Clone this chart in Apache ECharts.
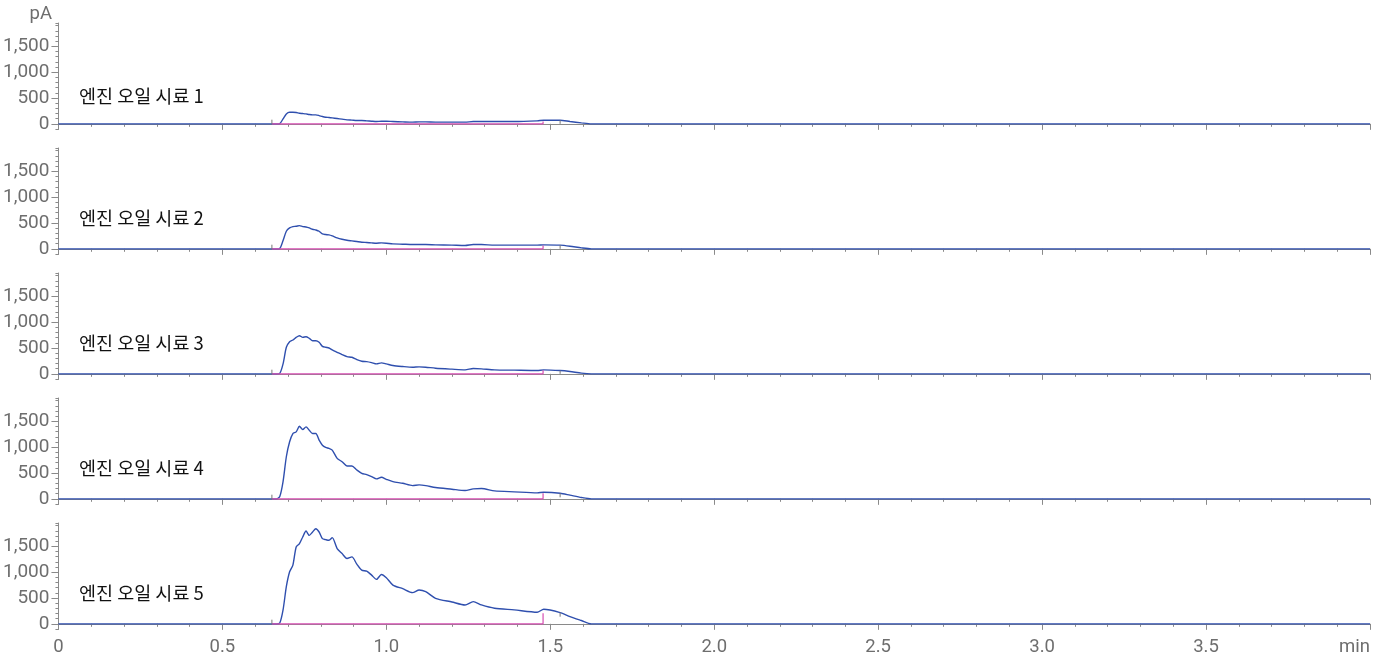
<!DOCTYPE html>
<html>
<head>
<meta charset="utf-8">
<script src="https://cdn.jsdelivr.net/npm/echarts@6/dist/echarts.min.js"></script>
<style>
  html, body { margin: 0; padding: 0; background: #fff; }
  #chart { width: 1386px; height: 662px; }
</style>
</head>
<body>
<div id="chart"></div>
<script>
// retention time (min), shared by all five traces
const times = [0, 0.65, 0.665, 0.675, 0.685, 0.695, 0.705, 0.715, 0.725, 0.735, 0.745, 0.755, 0.765, 0.775, 0.785, 0.795, 0.805, 0.815, 0.825, 0.835,
  0.85, 0.865, 0.88, 0.895, 0.91, 0.925, 0.94, 0.955, 0.97, 0.985, 1.0,
  1.02, 1.05, 1.08, 1.1, 1.12, 1.15, 1.2, 1.24, 1.265, 1.29, 1.33, 1.39, 1.46, 1.48, 1.53, 1.56, 1.595, 1.625, 4.0]

// detector signal (pA)
const sample1 = [0, 0, 0, 5, 96, 192, 224, 224, 218, 205, 199, 192, 180, 173, 173, 160, 141, 128, 122, 115,
  103, 90, 77, 71, 64, 64, 58, 51, 45, 51, 51,
  45, 38, 32, 38, 38, 32, 32, 32, 45, 45, 45, 45, 58, 70, 70, 45, 19, 0, 0]
const sample2 = [0, 0, 0, 8, 160, 340, 404, 430, 436, 449, 430, 423, 404, 378, 365, 340, 288, 276, 269, 250,
  212, 186, 167, 154, 141, 128, 122, 115, 109, 115, 109,
  96, 90, 83, 83, 83, 77, 71, 64, 83, 83, 71, 71, 71, 77, 71, 51, 19, 0, 0]
const sample3 = [0, 0, 0, 10, 192, 513, 622, 654, 705, 737, 705, 718, 686, 641, 641, 609, 532, 513, 500, 462,
  417, 372, 333, 320, 276, 244, 237, 218, 192, 212, 192,
  160, 141, 128, 135, 128, 109, 90, 77, 103, 96, 77, 71, 64, 77, 64, 45, 13, 0, 0]
const sample4 = [0, 0, 0, 45, 333, 814, 1103, 1263, 1295, 1404, 1340, 1391, 1327, 1263, 1263, 1135, 1038, 994, 974, 942,
  782, 718, 635, 635, 558, 494, 468, 429, 385, 417, 378,
  333, 301, 256, 269, 256, 218, 186, 160, 192, 199, 154, 135, 115, 128, 109, 71, 26, 0, 0]
const sample5 = [0, 0, 0, 15, 269, 718, 1006, 1135, 1487, 1551, 1679, 1795, 1711, 1776, 1840, 1776, 1647, 1628, 1615, 1667,
  1455, 1359, 1263, 1295, 1154, 1038, 1019, 942, 859, 955, 891,
  750, 679, 603, 654, 622, 494, 423, 365, 429, 365, 301, 269, 224, 282, 218, 141, 64, 0, 0]

const signals = [sample1, sample2, sample3, sample4, sample5]
const sampleNames = ['엔진 오일 시료 1', '엔진 오일 시료 2', '엔진 오일 시료 3', '엔진 오일 시료 4', '엔진 오일 시료 5']

// integration baseline (magenta) and event marks
const intStart = 0.651
const intEnd = 1.478
const cutHeights = [45, 64, 70, 110, 205]
const peakEnd = 1.53
const markLen = 80

const yTicks = [0, 500, 1000, 1500]

const GRID_TOP = 23
const GRID_STEP = 125
const GRID_H = 106
const labelY = [96, 218, 343, 468, 593]

const AXIS = '#8a8a8a'
const TXT = '#6e6e6e'
const BLUE = '#2f4fae'
const MAGENTA = '#d64fb2'

const grids = [], xAxes = [], yAxes = [], series = [], texts = []

signals.forEach((vals, i) => {
  const last = i === signals.length - 1
  grids.push({ left: 58, right: 16, top: GRID_TOP + GRID_STEP * i, height: GRID_H })

  xAxes.push({
    type: 'value', gridIndex: i, min: 0, max: 4, interval: 0.5,
    axisLine: { lineStyle: { color: AXIS, width: 1 } },
    axisTick: { length: 6, lineStyle: { color: AXIS } },
    minorTick: { show: true, splitNumber: 5, length: 3, lineStyle: { color: AXIS } },
    splitLine: { show: false },
    axisLabel: {
      show: last, color: TXT, fontSize: 18.5, fontFamily: 'Roboto', margin: 9,
      formatter: v => (v === 4 ? 'min' : v === 0 ? '0' : v.toFixed(1)),
      alignMaxLabel: 'right'
    }
  })

  yAxes.push({
    type: 'value', gridIndex: i, position: 'left', min: -100, max: 1950,
    axisLine: { show: true, lineStyle: { color: AXIS } },
    axisTick: { show: true, length: 7, customValues: yTicks, lineStyle: { color: AXIS } },
    axisLabel: {
      color: TXT, fontSize: 19, fontFamily: 'Roboto', margin: 9, customValues: yTicks,
      formatter: v => v.toLocaleString('en-US')
    },
    splitLine: { show: false }
  })
  yAxes.push({
    type: 'value', gridIndex: i, position: 'left', min: -100, max: 1950, interval: 100,
    axisLine: { show: false },
    axisTick: { show: true, length: 3, lineStyle: { color: AXIS } },
    axisLabel: { show: false },
    splitLine: { show: false }
  })

  const yi = i * 2
  series.push({
    type: 'line', xAxisIndex: i, yAxisIndex: yi, z: 3,
    data: times.map((t, k) => [t, vals[k]]),
    showSymbol: false, smooth: 0.25,
    lineStyle: { color: BLUE, width: 1.4 }
  })
  series.push({
    type: 'line', xAxisIndex: i, yAxisIndex: yi, z: 4,
    data: [[intStart, 0], [intEnd, 0], [intEnd, cutHeights[i]]],
    showSymbol: false,
    lineStyle: { color: MAGENTA, width: 1.2 }
  })
  series.push({
    type: 'line', xAxisIndex: i, yAxisIndex: yi, z: 4,
    data: [[intStart, 0], [intStart, markLen]],
    showSymbol: false,
    lineStyle: { color: '#777', width: 1 }
  })
  const pv = vals[times.indexOf(peakEnd)]
  series.push({
    type: 'line', xAxisIndex: i, yAxisIndex: yi, z: 4,
    data: [[peakEnd, pv], [peakEnd, Math.max(0, pv - markLen)]],
    showSymbol: false,
    lineStyle: { color: '#777', width: 1 }
  })

  texts.push({
    type: 'text', x: 79, y: labelY[i],
    style: { text: sampleNames[i], fill: '#111', fontSize: 18.5, fontFamily: 'Noto Sans CJK KR', verticalAlign: 'middle' }
  })
})

texts.push({
  type: 'text', x: 52, y: 14,
  style: { text: 'pA', fill: TXT, fontSize: 18.5, fontFamily: 'Roboto', align: 'right', verticalAlign: 'middle' }
})

const chart = echarts.init(document.getElementById('chart'))
chart.setOption({
  animation: false,
  grid: grids,
  xAxis: xAxes,
  yAxis: yAxes,
  series,
  graphic: texts
})
</script>
</body>
</html>
